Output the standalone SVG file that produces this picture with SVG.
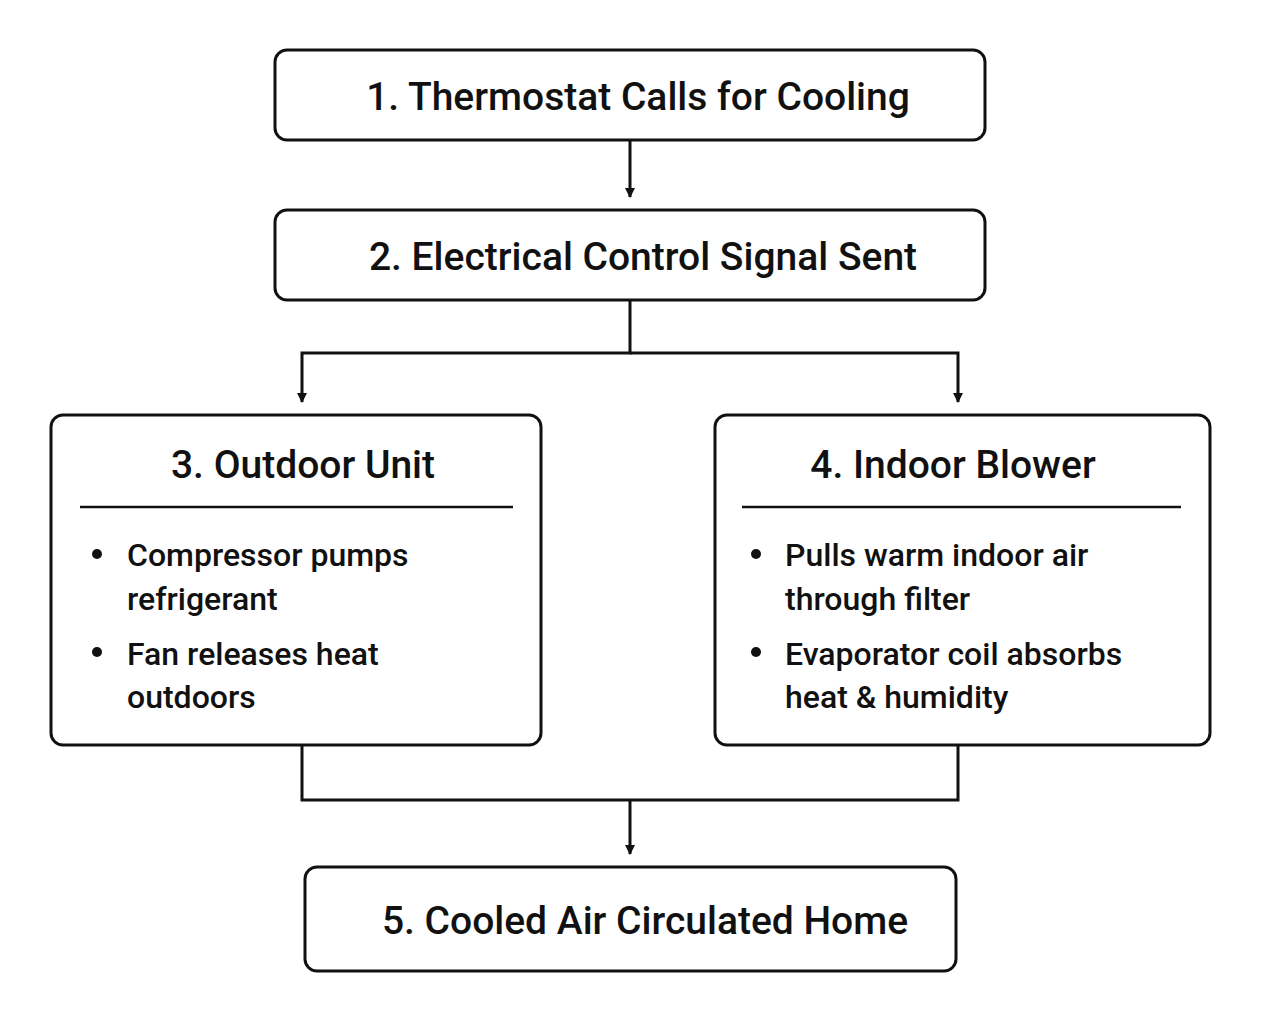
<svg xmlns="http://www.w3.org/2000/svg" width="1261" height="1023" viewBox="0 0 1261 1023">
<defs>
<style>
.box{fill:#fff;stroke:#111;stroke-width:3}
.t{font-family:Roboto,"Liberation Sans",sans-serif;font-weight:500;fill:#111}
.h{font-size:39px;text-anchor:middle}
.b{font-size:32px}
.c{fill:none;stroke:#111;stroke-width:3}
</style>
<marker id="a" markerWidth="10" markerHeight="10" refX="9" refY="5" orient="auto" markerUnits="userSpaceOnUse" viewBox="0 0 10 10"><path d="M0,0 L10,5 L0,10 z" fill="#111"/></marker>
</defs>
<rect width="1261" height="1023" fill="#fff"/>
<g id="connectors">
<path class="c" d="M630,140 V197" marker-end="url(#a)" transform="scale(1)"/>
<path class="c" d="M630,300 V353 H302 V402" marker-end="url(#a)"/>
<path class="c" d="M630,353 H958 V402" marker-end="url(#a)"/>
<path class="c" d="M302,745 V800 H958 V745"/>
<path class="c" d="M630,800 V854" marker-end="url(#a)"/>
</g>
<g id="n1"><rect class="box" x="275" y="50" width="710" height="90" rx="12"/><text class="t h" x="638" y="110">1. Thermostat Calls for Cooling</text></g>
<g id="n2"><rect class="box" x="275" y="210" width="710" height="90" rx="12"/><text class="t h" x="643" y="270">2. Electrical Control Signal Sent</text></g>
<g id="n3"><rect class="box" x="51" y="415" width="490" height="330" rx="12"/><text class="t h" x="303" y="478">3. Outdoor Unit</text>
<line x1="80" y1="507" x2="513" y2="507" stroke="#111" stroke-width="2.5"/>
<circle cx="97" cy="554" r="5" fill="#111"/><circle cx="97" cy="652" r="5" fill="#111"/>
<text class="t b" x="127" y="566">Compressor pumps</text><text class="t b" x="127" y="610">refrigerant</text>
<text class="t b" x="127" y="665">Fan releases heat</text><text class="t b" x="127" y="708">outdoors</text></g>
<g id="n4"><rect class="box" x="715" y="415" width="495" height="330" rx="12"/><text class="t h" x="953" y="478">4. Indoor Blower</text>
<line x1="742" y1="507" x2="1181" y2="507" stroke="#111" stroke-width="2.5"/>
<circle cx="756" cy="554" r="5" fill="#111"/><circle cx="756" cy="652" r="5" fill="#111"/>
<text class="t b" x="785" y="566">Pulls warm indoor air</text><text class="t b" x="785" y="610">through filter</text>
<text class="t b" x="785" y="665">Evaporator coil absorbs</text><text class="t b" x="785" y="708">heat &amp; humidity</text></g>
<g id="n5"><rect class="box" x="305" y="867" width="651" height="104" rx="12"/><text class="t h" x="645" y="934">5. Cooled Air Circulated Home</text></g>
</svg>
